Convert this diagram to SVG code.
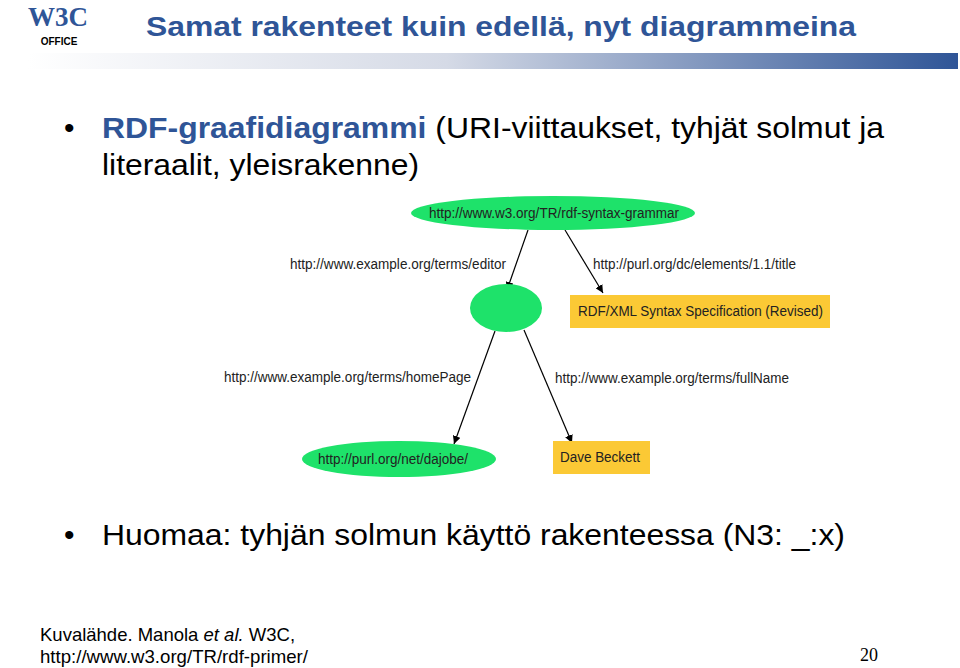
<svg xmlns="http://www.w3.org/2000/svg" width="960" height="668" viewBox="0 0 960 668">
<style>
.lbl{font-family:"Liberation Sans",Arial,sans-serif;font-size:14px;fill:#222}
.body{font-family:"Liberation Sans",Arial,sans-serif;font-size:30px;fill:#000}
.edge{stroke:#000;stroke-width:1.2;fill:none;marker-end:url(#ah)}
.g{fill:#1ee26a}
.y{fill:#fbc935}
</style>
<defs>
<linearGradient id="bar" x1="0" x2="1" y1="0" y2="0">
<stop offset="0" stop-color="#ffffff"/><stop offset="0.45" stop-color="#d5dae6"/><stop offset="1" stop-color="#2f5597"/>
</linearGradient>
<marker id="ah" viewBox="0 0 10 10" refX="10" refY="5" markerWidth="8" markerHeight="8" orient="auto" markerUnits="userSpaceOnUse"><path d="M0,0L10,5L0,10z" fill="#000"/></marker>
</defs>
<rect width="960" height="668" fill="#fff"/>
<g id="logo">
<text x="58" y="26" text-anchor="middle" font-family="Liberation Serif,serif" font-size="28" fill="#2f5597" font-weight="bold" textLength="60" lengthAdjust="spacingAndGlyphs">W3C</text>
<text x="59" y="45" text-anchor="middle" font-family="Liberation Sans,Arial,sans-serif" font-size="10" font-weight="bold" fill="#000">OFFICE</text>
</g>
<text x="146" y="36" font-family="Liberation Sans,Arial,sans-serif" font-size="28" font-weight="bold" fill="#2f5597" textLength="710" lengthAdjust="spacingAndGlyphs">Samat rakenteet kuin edellä, nyt diagrammeina</text>
<rect x="28" y="53" width="930" height="16" fill="url(#bar)"/>
<text x="64" y="138" class="body">•</text>
<text x="102" y="138" class="body" textLength="782" lengthAdjust="spacingAndGlyphs"><tspan fill="#2f5597" font-weight="bold">RDF-graafidiagrammi</tspan> (URI-viittaukset, tyhjät solmut ja</text>
<text x="102" y="175" class="body" textLength="317" lengthAdjust="spacingAndGlyphs">literaalit, yleisrakenne)</text>
<g id="connectors">
<line class="edge" x1="528" y1="230" x2="507" y2="290"/>
<line class="edge" x1="565" y1="230" x2="603" y2="293"/>
<line class="edge" x1="495" y1="331" x2="454" y2="444"/>
<line class="edge" x1="524" y1="330" x2="572" y2="443"/>
<text class="lbl" x="290" y="269" textLength="216" lengthAdjust="spacingAndGlyphs">http://www.example.org/terms/editor</text>
<text class="lbl" x="593" y="269" textLength="203" lengthAdjust="spacingAndGlyphs">http://purl.org/dc/elements/1.1/title</text>
<text class="lbl" x="224" y="382" textLength="247" lengthAdjust="spacingAndGlyphs">http://www.example.org/terms/homePage</text>
<text class="lbl" x="555" y="383" textLength="234" lengthAdjust="spacingAndGlyphs">http://www.example.org/terms/fullName</text>
</g>
<g id="n1"><ellipse class="g" cx="553" cy="213" rx="142" ry="17"/><text class="lbl" x="429" y="218" textLength="250" lengthAdjust="spacingAndGlyphs">http://www.w3.org/TR/rdf-syntax-grammar</text></g>
<g id="n2"><ellipse class="g" cx="506" cy="308" rx="36" ry="24"/></g>
<g id="n3"><rect class="y" x="570" y="295" width="260" height="33"/><text class="lbl" x="578" y="316" textLength="245" lengthAdjust="spacingAndGlyphs">RDF/XML Syntax Specification (Revised)</text></g>
<g id="n4"><ellipse class="g" cx="399" cy="459" rx="97" ry="18"/><text class="lbl" x="318" y="464" textLength="150" lengthAdjust="spacingAndGlyphs">http://purl.org/net/dajobe/</text></g>
<g id="n5"><rect class="y" x="553" y="441" width="97" height="33"/><text class="lbl" x="560" y="462" textLength="80" lengthAdjust="spacingAndGlyphs">Dave Beckett</text></g>
<text x="64" y="545" class="body">•</text>
<text x="102" y="545" class="body" textLength="743" lengthAdjust="spacingAndGlyphs">Huomaa: tyhjän solmun käyttö rakenteessa (N3: _:x)</text>
<text x="40" y="641" font-family="Liberation Sans,Arial,sans-serif" font-size="18.5">Kuvalähde. Manola <tspan font-style="italic">et al.</tspan> W3C,</text>
<text x="40" y="663" font-family="Liberation Sans,Arial,sans-serif" font-size="18.5" textLength="268" lengthAdjust="spacingAndGlyphs">http://www.w3.org/TR/rdf-primer/</text>
<text x="878" y="661" text-anchor="end" font-family="Liberation Serif,serif" font-size="18">20</text>
</svg>
